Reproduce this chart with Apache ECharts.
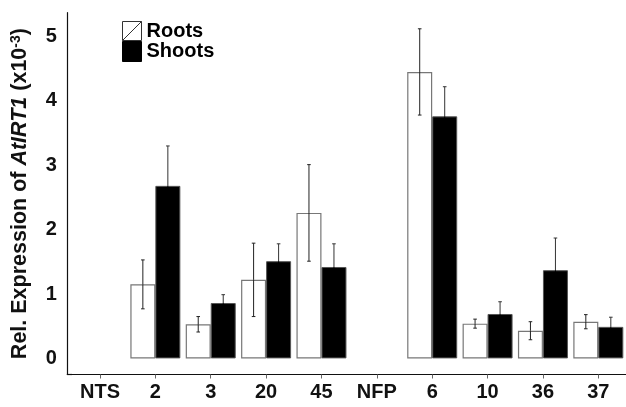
<!DOCTYPE html>
<html><head><meta charset="utf-8">
<script src="https://cdn.jsdelivr.net/npm/echarts@6/dist/echarts.min.js"></script>
<style>html,body{margin:0;padding:0;background:#fff}#c{width:626px;height:407px}</style>
</head><body><div id="c"></div>
<script>
var categories = ['NTS','2','3','20','45','NFP','6','10','36','37'];
var roots      = [null, 1.15, 0.53, 1.22, 2.26, null, 4.45, 0.54, 0.43, 0.57];
var rootsErr   = [null, 0.38, 0.12, 0.57, 0.75, null, 0.67, 0.07, 0.14, 0.11];
var shoots     = [null, 2.68, 0.86, 1.51, 1.42, null, 3.76, 0.69, 1.37, 0.49];
var shootsErr  = [null, 0.62, 0.13, 0.27, 0.36, null, 0.46, 0.19, 0.50, 0.15];
var yTicks = [0,1,2,3,4,5];

var FONT = 'Liberation Sans';
var BAR_W = 25;
var GRID_LEFT = 72.3, Y_OFF = 5.5, GRID_TOP = 12.7, GRID_BOTTOM = 407 - 374.5;

function errData(vals, errs){
  var out = [];
  for (var i = 0; i < vals.length; i++) {
    if (vals[i] != null) out.push([i, vals[i], errs[i]]);
  }
  return out;
}
function errRender(shift, upColor, downColor){
  return function(params, api){
    var i = api.value(0), v = api.value(1), e = api.value(2);
    var hi = api.coord([i, v + e]);
    var mid = api.coord([i, v]);
    var lo = api.coord([i, v - e]);
    var x = hi[0] + shift;
    var cap = 1.8;
    var su = {stroke:upColor, lineWidth:1};
    var sd = {stroke:downColor, lineWidth:1};
    return {type:'group', children:[
      {type:'line', shape:{x1:x, y1:hi[1], x2:x, y2:mid[1]}, style:su},
      {type:'line', shape:{x1:x, y1:mid[1], x2:x, y2:lo[1]}, style:sd},
      {type:'line', shape:{x1:x-cap, y1:hi[1], x2:x+cap, y2:hi[1]}, style:su},
      {type:'line', shape:{x1:x-cap, y1:lo[1], x2:x+cap, y2:lo[1]}, style:sd}
    ]};
  };
}

var chart = echarts.init(document.getElementById('c'), null, {renderer:'canvas'});
chart.setOption({
  animation:false,
  backgroundColor:'#fff',
  textStyle:{fontFamily:FONT},
  grid:{left:GRID_LEFT, right:0, top:GRID_TOP, bottom:GRID_BOTTOM, containLabel:false},
  legend:{
    orient:'vertical', left:122, top:21, padding:0, itemGap:0, itemWidth:19, itemHeight:20,
    textStyle:{fontFamily:FONT, fontWeight:'bold', fontSize:20, color:'#000', lineHeight:20},
    selectedMode:false,
    data:[
      {name:'Roots', icon:'path://M0,0L20,0L20,20L0,20ZM0,20L20,0', itemStyle:{color:'#fff', borderColor:'#333', borderWidth:1}},
      {name:'Shoots', icon:'rect', itemStyle:{color:'#000', borderColor:'#000', borderWidth:1}}
    ]
  },
  xAxis:{
    type:'category', data:categories, boundaryGap:true,
    axisLine:{onZero:false, lineStyle:{color:'#111', width:1.2}},
    axisTick:{show:true, alignWithLabel:true, length:4, lineStyle:{color:'#666'}},
    axisLabel:{fontFamily:FONT, fontWeight:'bold', fontSize:20, color:'#111', margin:8}
  },
  yAxis:{
    type:'value', min:-0.25, max:5.37, offset:Y_OFF,
    splitLine:{show:false},
    axisLine:{show:true, lineStyle:{color:'#111', width:1.2}},
    axisTick:{show:false},
    axisLabel:{customValues:yTicks, fontFamily:FONT, fontWeight:'bold', fontSize:20, color:'#111', margin:10},
    name:'{n|Rel. Expression of }{i|AtIRT1}{n| (x10}{s|-3}{n|)}',
    nameLocation:'middle', nameGap:35, nameRotate:90,
    nameTextStyle:{
      rich:{
        n:{fontFamily:FONT, fontWeight:'bold', fontSize:21.5, color:'#111', lineHeight:23},
        i:{fontFamily:FONT, fontWeight:'bold', fontStyle:'italic', fontSize:21.5, color:'#111', lineHeight:23},
        s:{fontFamily:FONT, fontWeight:'bold', fontSize:14, color:'#111', lineHeight:23, verticalAlign:'top'}
      }
    }
  },
  graphic:[
    {type:'line', shape:{x1:GRID_LEFT - Y_OFF, y1:407 - GRID_BOTTOM, x2:GRID_LEFT, y2:407 - GRID_BOTTOM}, style:{stroke:'#111', lineWidth:1.2}}
  ],
  series:[
    {name:'Roots', type:'bar', data:roots, barWidth:BAR_W, barGap:'0%',
     itemStyle:{color:'#fff', borderColor:'#777', borderWidth:1.2}},
    {name:'Shoots', type:'bar', data:shoots, barWidth:BAR_W, barGap:'0%',
     itemStyle:{color:'#000', borderColor:'#555', borderWidth:1}},
    {name:'RootsErr', type:'custom', data:errData(roots, rootsErr), renderItem:errRender(-BAR_W/2, '#222', '#222'), z:5, silent:true,
     encode:{x:0, y:1}},
    {name:'ShootsErr', type:'custom', data:errData(shoots, shootsErr), renderItem:errRender(BAR_W/2, '#333', '#000'), z:5, silent:true,
     encode:{x:0, y:1}}
  ]
});
</script></body></html>
